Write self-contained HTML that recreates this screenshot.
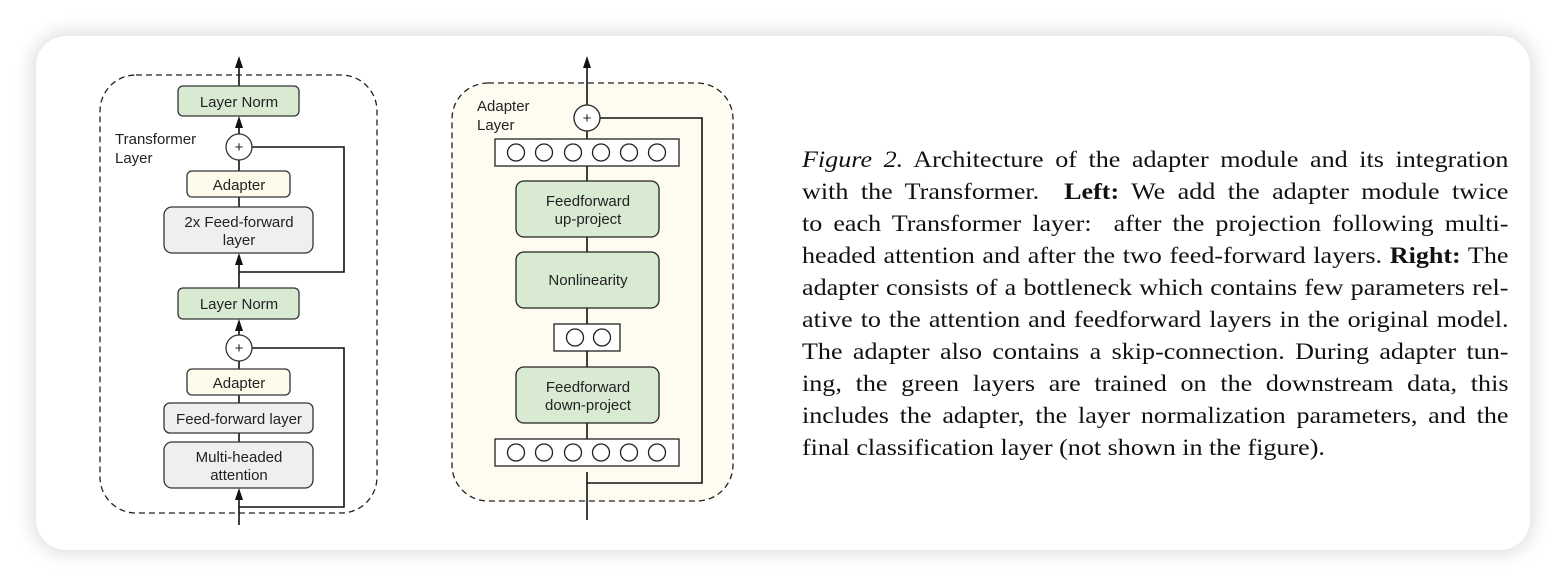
<!DOCTYPE html>
<html><head><meta charset="utf-8"><style>
html,body{margin:0;padding:0;width:1566px;height:586px;background:#fff;overflow:hidden;}
.card{position:absolute;left:36px;top:36px;width:1494px;height:514px;border-radius:30px;background:#fff;box-shadow:0 0 18px 4px rgba(0,0,0,0.13);}
.ln{position:absolute;left:802px;width:623px;font-family:"Liberation Serif",serif;font-size:23px;line-height:26px;color:#111;text-align:justify;text-align-last:justify;white-space:nowrap;transform:scaleX(1.134);transform-origin:0 0;}
.ln.last{text-align-last:left;}
svg{position:absolute;left:0;top:0;}
svg text{font-family:"Liberation Sans",sans-serif;font-size:15px;fill:#222;}
</style></head><body>
<div class="card"></div>
<svg width="1566" height="586" viewBox="0 0 1566 586">
<!-- LEFT -->
<rect x="100" y="75" width="277" height="438" rx="36" fill="none" stroke="#222" stroke-width="1.3" stroke-dasharray="6,4"/>
<text x="115" y="144">Transformer</text><text x="115" y="163">Layer</text>
<g stroke="#111" stroke-width="1.6" fill="none">
<line x1="239" y1="86" x2="239" y2="62"/>
<line x1="239" y1="134" x2="239" y2="120"/>
<line x1="239" y1="171" x2="239" y2="160"/>
<line x1="239" y1="207" x2="239" y2="197"/>
<line x1="239" y1="288" x2="239" y2="257"/>
<polyline points="252,147 344,147 344,272 239,272"/>
<line x1="239" y1="335" x2="239" y2="323"/>
<line x1="239" y1="369" x2="239" y2="361"/>
<line x1="239" y1="403" x2="239" y2="395"/>
<line x1="239" y1="442" x2="239" y2="433"/>
<line x1="239" y1="525" x2="239" y2="492"/>
<polyline points="252,348 344,348 344,507 239,507"/>
</g>
<g fill="#111">
<path d="M235,68 L239,56 L243,68 Z"/>
<path d="M235,128 L239,116 L243,128 Z"/>
<path d="M235,265 L239,253 L243,265 Z"/>
<path d="M235,331 L239,319 L243,331 Z"/>
<path d="M235,500 L239,488 L243,500 Z"/>
<path d="M583,68 L587,56 L591,68 Z"/>
<path d="M583,478 L587,466 L591,478 Z"/>
</g>
<g stroke="#333" stroke-width="1.3">
<rect x="178" y="86" width="121" height="30" rx="5" fill="#d9ead3"/>
<circle cx="239" cy="147" r="13" fill="#fff"/>
<rect x="187" y="171" width="103" height="26" rx="5" fill="#fffbea"/>
<rect x="164" y="207" width="149" height="46" rx="8" fill="#efefef"/>
<rect x="178" y="288" width="121" height="31" rx="5" fill="#d9ead3"/>
<circle cx="239" cy="348" r="13" fill="#fff"/>
<rect x="187" y="369" width="103" height="26" rx="5" fill="#fffbea"/>
<rect x="164" y="403" width="149" height="30" rx="6" fill="#efefef"/>
<rect x="164" y="442" width="149" height="46" rx="8" fill="#efefef"/>
</g>
<g text-anchor="middle">
<text x="239" y="107">Layer Norm</text>
<text x="239" y="152" font-size="13">+</text>
<text x="239" y="190">Adapter</text>
<text x="239" y="227">2x Feed-forward</text><text x="239" y="245">layer</text>
<text x="239" y="309">Layer Norm</text>
<text x="239" y="353" font-size="13">+</text>
<text x="239" y="388">Adapter</text>
<text x="239" y="424">Feed-forward layer</text>
<text x="239" y="462">Multi-headed</text><text x="239" y="480">attention</text>
</g>
<!-- RIGHT -->
<rect x="452" y="83" width="281" height="418" rx="36" fill="#fefcf0" stroke="#222" stroke-width="1.3" stroke-dasharray="6,4"/>
<text x="477" y="111">Adapter</text><text x="477" y="130">Layer</text>
<g stroke="#111" stroke-width="1.6" fill="none">
<line x1="587" y1="105" x2="587" y2="62"/>
<line x1="587" y1="139" x2="587" y2="131"/>
<line x1="587" y1="181" x2="587" y2="166"/>
<line x1="587" y1="252" x2="587" y2="237"/>
<line x1="587" y1="324" x2="587" y2="308"/>
<line x1="587" y1="367" x2="587" y2="351"/>
<line x1="587" y1="439" x2="587" y2="423"/>
<line x1="587" y1="520" x2="587" y2="472"/>
<polyline points="600,118 702,118 702,483 587,483"/>
</g>
<g stroke="#222" stroke-width="1.3">
<circle cx="587" cy="118" r="13" fill="#fff"/>
<rect x="495" y="139" width="184" height="27" fill="#fff"/>
<rect x="516" y="181" width="143" height="56" rx="8" fill="#d9ead3"/>
<rect x="516" y="252" width="143" height="56" rx="8" fill="#d9ead3"/>
<rect x="554" y="324" width="66" height="27" fill="#fff"/>
<rect x="516" y="367" width="143" height="56" rx="8" fill="#d9ead3"/>
<rect x="495" y="439" width="184" height="27" fill="#fff"/>
<g fill="#fff">
<circle cx="516" cy="152.5" r="8.5"/><circle cx="544" cy="152.5" r="8.5"/><circle cx="573" cy="152.5" r="8.5"/><circle cx="601" cy="152.5" r="8.5"/><circle cx="629" cy="152.5" r="8.5"/><circle cx="657" cy="152.5" r="8.5"/>
<circle cx="575" cy="337.5" r="8.5"/><circle cx="602" cy="337.5" r="8.5"/>
<circle cx="516" cy="452.5" r="8.5"/><circle cx="544" cy="452.5" r="8.5"/><circle cx="573" cy="452.5" r="8.5"/><circle cx="601" cy="452.5" r="8.5"/><circle cx="629" cy="452.5" r="8.5"/><circle cx="657" cy="452.5" r="8.5"/>
</g>
</g>
<g text-anchor="middle">
<text x="587" y="123" font-size="13">+</text>
<text x="588" y="206">Feedforward</text><text x="588" y="224">up-project</text>
<text x="588" y="285">Nonlinearity</text>
<text x="588" y="392">Feedforward</text><text x="588" y="410">down-project</text>
</g>
</svg>
<div class="ln" style="top:147px"><i>Figure 2.</i> Architecture of the adapter module and its integration</div>
<div class="ln" style="top:179px">with the Transformer. &nbsp;<b>Left:</b> We add the adapter module twice</div>
<div class="ln" style="top:211px">to each Transformer layer: &nbsp;after the projection following multi-</div>
<div class="ln" style="top:243px">headed attention and after the two feed-forward layers. <b>Right:</b> The</div>
<div class="ln" style="top:275px">adapter consists of a bottleneck which contains few parameters rel-</div>
<div class="ln" style="top:307px">ative to the attention and feedforward layers in the original model.</div>
<div class="ln" style="top:339px">The adapter also contains a skip-connection. During adapter tun-</div>
<div class="ln" style="top:371px">ing, the green layers are trained on the downstream data, this</div>
<div class="ln" style="top:403px">includes the adapter, the layer normalization parameters, and the</div>
<div class="ln last" style="top:435px">final classification layer (not shown in the figure).</div>
</body></html>
